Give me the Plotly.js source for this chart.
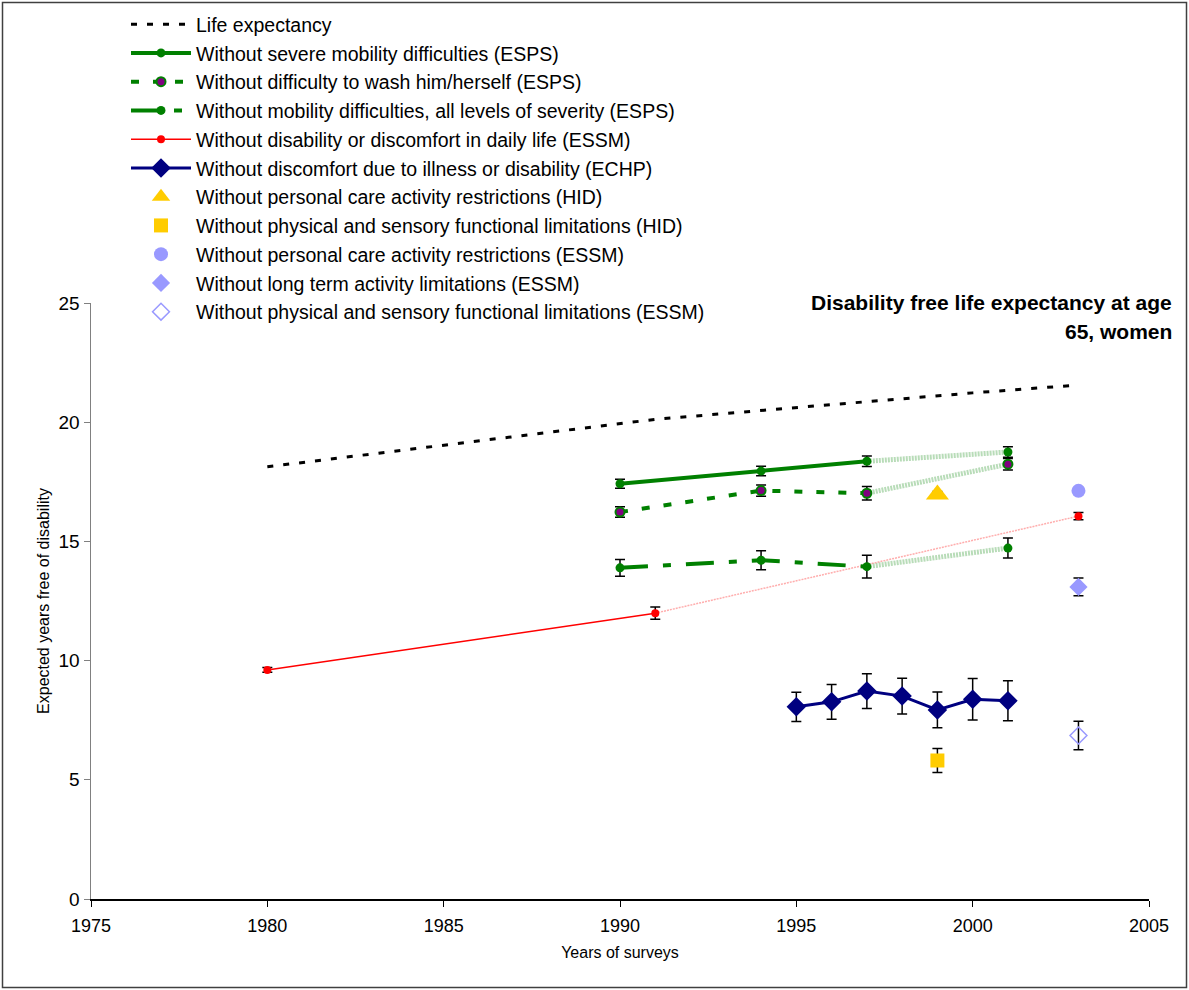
<!DOCTYPE html>
<html>
<head>
<meta charset="utf-8">
<script src="https://cdn.plot.ly/plotly-3.0.1.min.js"></script>
<style>
  html, body { margin: 0; padding: 0; background: #ffffff; }
  #chart { width: 1189px; height: 990px; }
</style>
</head>
<body>
<div id="chart"></div>
<script>
// ---- Data ----
const lifeYears = [1980, 1991, 1997, 2000, 2003];
const lifeExpectancy = [18.13, 20.12, 20.86, 21.23, 21.56];

const espsYears = [1990, 1994, 1997];
const severeMobility = [17.42, 17.95, 18.36];
const severeMobilityErr = [0.19, 0.20, 0.22];
const washSelf = [16.23, 17.13, 17.02];
const washSelfErr = [0.22, 0.24, 0.28];
const mobilityAll = [13.89, 14.21, 13.94];
const mobilityAllErr = [0.35, 0.40, 0.48];

const espsLaterYear = [2001];
const severeMobility2001 = [18.75];
const severeMobility2001Err = [0.22];
const washSelf2001 = [18.24];
const washSelf2001Err = [0.24];
const mobilityAll2001 = [14.72];
const mobilityAll2001Err = [0.42];

const essmDailyYears = [1980, 1991];
const essmDaily = [9.61, 11.99];
const essmDailyErr = [0.10, 0.26];
const essmDailyLaterYear = [2003];
const essmDaily2003 = [16.06];
const essmDaily2003Err = [0.15];

const echpYears = [1995, 1996, 1997, 1998, 1999, 2000, 2001];
const echpDiscomfort = [8.06, 8.27, 8.72, 8.51, 7.93, 8.38, 8.32];
const echpDiscomfortErr = [0.61, 0.73, 0.73, 0.75, 0.75, 0.87, 0.84];

const hidYear = [1999];
const hidPersonalCare = [16.97];
const hidPersonalCareErr = [0.12];
const hidFunctional = [5.81];
const hidFunctionalErr = [0.50];

const essmYear = [2003];
const essmPersonalCare = [17.12];
const essmPersonalCareErr = [0.10];
const essmLongTerm = [13.09];
const essmLongTermErr = [0.37];
const essmFunctional = [6.86];
const essmFunctionalErr = [0.60];

const xTickVals = [1975, 1980, 1985, 1990, 1995, 2000, 2005];
const yTickVals = [0, 5, 10, 15, 20, 25];

const legendNames = [
  'Life expectancy',
  'Without severe mobility difficulties (ESPS)',
  'Without difficulty to wash him/herself (ESPS)',
  'Without mobility difficulties, all levels of severity (ESPS)',
  'Without disability or discomfort in daily life (ESSM)',
  'Without discomfort due to illness or disability (ECHP)',
  'Without personal care activity restrictions (HID)',
  'Without physical and sensory functional limitations (HID)',
  'Without personal care activity restrictions (ESSM)',
  'Without long term activity limitations (ESSM)',
  'Without physical and sensory functional limitations (ESSM)'
];
const titleLines = ['Disability free life expectancy at age', '65, women'];

// ---- Styling ----
const GREEN = '#008000', PURPLE = '#800080', RED = '#FF0000', NAVY = '#000080',
      YELLOW = '#FFCC00', LILAC = '#9999FF';
const FONT = 'Liberation Sans, Arial, sans-serif';

function err(arr) {
  return { type: 'data', array: arr, visible: true, color: '#000000', thickness: 1.5, width: 5 };
}

const connectorLine = { color: 'rgba(0,128,0,0.28)', width: 5, dash: '2px,1px' };

const traces = [];

// light connectors (drawn first, underneath)
function connector(x, y, line) {
  traces.push({ x: x, y: y, mode: 'lines', line: line, showlegend: false, hoverinfo: 'skip' });
}
connector([espsYears[2], espsLaterYear[0]], [severeMobility[2], severeMobility2001[0]], connectorLine);
connector([espsYears[2], espsLaterYear[0]], [washSelf[2], washSelf2001[0]], connectorLine);
connector([espsYears[2], espsLaterYear[0]], [mobilityAll[2], mobilityAll2001[0]], connectorLine);
connector([essmDailyYears[1], essmDailyLaterYear[0]], [essmDaily[1], essmDaily2003[0]],
          { color: 'rgba(255,0,0,0.32)', width: 1.5, dash: '2px,1px' });

// later isolated points
traces.push({ x: espsLaterYear, y: severeMobility2001, error_y: err(severeMobility2001Err), mode: 'markers',
  marker: { color: GREEN, size: 9 }, showlegend: false });
traces.push({ x: espsLaterYear, y: washSelf2001, error_y: err(washSelf2001Err), mode: 'markers',
  marker: { color: PURPLE, size: 9, line: { color: GREEN, width: 2 } }, showlegend: false });
traces.push({ x: espsLaterYear, y: mobilityAll2001, error_y: err(mobilityAll2001Err), mode: 'markers',
  marker: { color: GREEN, size: 9 }, showlegend: false });
traces.push({ x: essmDailyLaterYear, y: essmDaily2003, error_y: err(essmDaily2003Err), mode: 'markers',
  marker: { color: RED, size: 8 }, showlegend: false });

// legend traces
let rank = 1;
function main(t) { t.legendrank = rank; t.legendgroup = 'g' + rank; rank++; traces.push(t); }

main({ name: legendNames[0], x: lifeYears, y: lifeExpectancy, mode: 'lines',
  line: { color: '#000000', width: 3, dash: '6px,10px' } });
main({ name: legendNames[1], x: espsYears, y: severeMobility, error_y: err(severeMobilityErr), mode: 'lines+markers',
  line: { color: GREEN, width: 4 }, marker: { color: GREEN, size: 9 } });
main({ name: legendNames[2], x: espsYears, y: washSelf, error_y: err(washSelfErr), mode: 'lines+markers',
  line: { color: GREEN, width: 4, dash: '8px,14px' }, marker: { color: PURPLE, size: 9, line: { color: GREEN, width: 2 } } });
main({ name: legendNames[3], x: espsYears, y: mobilityAll, error_y: err(mobilityAllErr), mode: 'lines+markers',
  line: { color: GREEN, width: 4, dash: '28px,15px,8px,15px' }, marker: { color: GREEN, size: 9 } });
main({ name: legendNames[4], x: essmDailyYears, y: essmDaily, error_y: err(essmDailyErr), mode: 'lines+markers',
  line: { color: RED, width: 1.5 }, marker: { color: RED, size: 8 } });
main({ name: legendNames[5], x: echpYears, y: echpDiscomfort, error_y: err(echpDiscomfortErr), mode: 'lines+markers',
  line: { color: NAVY, width: 3 }, marker: { color: NAVY, size: 15, symbol: 'diamond' } });
main({ name: legendNames[6], x: hidYear, y: hidPersonalCare, error_y: err(hidPersonalCareErr), mode: 'markers',
  marker: { color: YELLOW, size: 20, symbol: 'triangle-up' } });
main({ name: legendNames[7], x: hidYear, y: hidFunctional, error_y: err(hidFunctionalErr), mode: 'markers',
  marker: { color: YELLOW, size: 14, symbol: 'square' } });
main({ name: legendNames[8], x: essmYear, y: essmPersonalCare, error_y: err(essmPersonalCareErr), mode: 'markers',
  marker: { color: LILAC, size: 14, symbol: 'circle' } });
main({ name: legendNames[9], x: essmYear, y: essmLongTerm, error_y: err(essmLongTermErr), mode: 'markers',
  marker: { color: LILAC, size: 14, symbol: 'diamond' } });
main({ name: legendNames[10], x: essmYear, y: essmFunctional, error_y: err(essmFunctionalErr), mode: 'markers',
  marker: { color: LILAC, size: 13, symbol: 'diamond-open', line: { color: LILAC, width: 1.5 } } });

// ---- Layout ----
const L = 91, R = 40, T = 303, B = 91, W = 1189, H = 990;
const pw = W - L - R, ph = H - T - B;
function px2x(px) { return (px - L) / pw; }
function py2y(py) { return (H - B - py) / ph; }

const layout = {
  width: W, height: H,
  margin: { l: L, r: R, t: T, b: B, pad: 0, autoexpand: false },
  paper_bgcolor: '#ffffff', plot_bgcolor: '#ffffff',
  font: { family: FONT, color: '#000000', size: 18 },
  showlegend: true,
  legend: {
    x: px2x(126), y: py2y(5), xanchor: 'left', yanchor: 'top',
    font: { family: FONT, size: 19.5, color: '#000000' },
    bgcolor: 'rgba(0,0,0,0)', borderwidth: 0,
    itemwidth: 60, tracegroupgap: 0.4, itemclick: false
  },
  xaxis: {
    range: [1975, 2005], tickvals: xTickVals, ticktext: xTickVals.map(String),
    automargin: false,
    showgrid: false, zeroline: false, showline: true, linecolor: '#000000', linewidth: 1.5,
    ticks: 'outside', ticklen: 6, tickcolor: '#000000', tickwidth: 1,
    ticklabelstandoff: 4,
    tickfont: { family: FONT, size: 18 },
    title: { text: 'Years of surveys', font: { family: FONT, size: 16 } }
  },
  yaxis: {
    range: [0, 25], tickvals: yTickVals, ticktext: yTickVals.map(String),
    automargin: false,
    showgrid: false, zeroline: false, showline: true, linecolor: '#808080', linewidth: 1.5,
    ticks: 'outside', ticklen: 6, tickcolor: '#808080', tickwidth: 1,
    tickfont: { family: FONT, size: 19 },
    title: { text: 'Expected years free of disability', font: { family: FONT, size: 16 } }
  },
  annotations: [
    { text: '<b>' + titleLines[0] + '</b>', xref: 'paper', yref: 'paper', x: px2x(1174), y: py2y(302),
      xanchor: 'right', yanchor: 'middle', showarrow: false, font: { family: FONT, size: 21, color: '#000000' } },
    { text: '<b>' + titleLines[1] + '</b>', xref: 'paper', yref: 'paper', x: px2x(1174), y: py2y(331),
      xanchor: 'right', yanchor: 'middle', showarrow: false, font: { family: FONT, size: 21, color: '#000000' } }
  ],
  shapes: [
    { type: 'rect', xref: 'paper', yref: 'paper', x0: px2x(2.5), x1: px2x(1186.5), y0: py2y(987.5), y1: py2y(2.5),
      line: { color: '#404040', width: 1.5 }, fillcolor: 'rgba(0,0,0,0)', layer: 'below' }
  ]
};

Plotly.newPlot('chart', traces, layout, { staticPlot: true, displayModeBar: false });
</script>
</body>
</html>
